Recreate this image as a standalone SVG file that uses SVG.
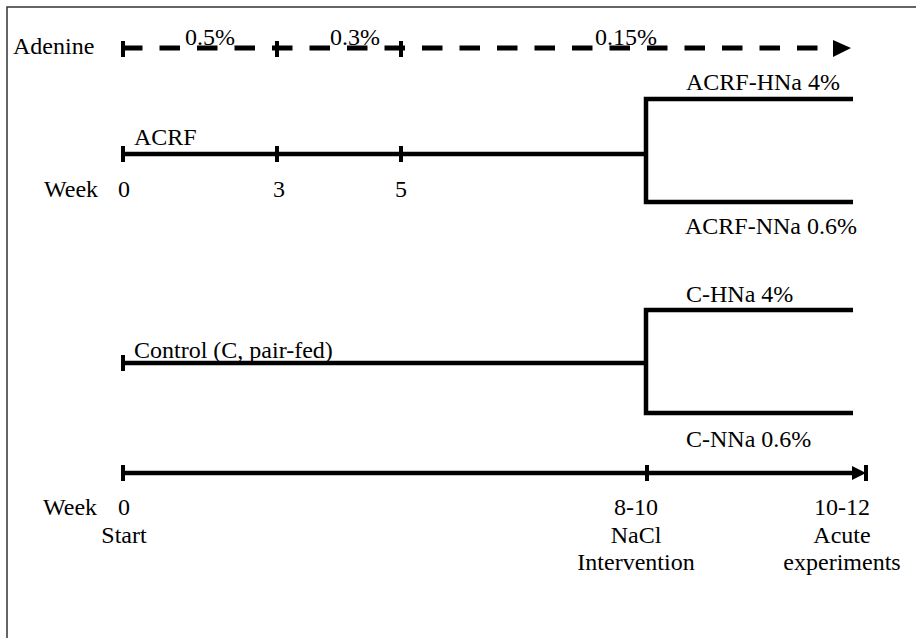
<svg xmlns="http://www.w3.org/2000/svg" width="916" height="638" viewBox="0 0 916 638">
<style>
.mid{text-anchor:middle}
.ln{stroke:#000;stroke-width:4.5;fill:none;stroke-linecap:butt}
.tk{stroke:#000;stroke-width:4;fill:none}
.dash{stroke:#000;stroke-width:5;fill:none;stroke-dasharray:20.5 17}
.frame{stroke:#333;stroke-width:1.5;fill:none}
</style>
<rect width="916" height="638" fill="#fff"/>
<path class="frame" d="M7,638 V7 H916"/>
<g id="connectors">
  <line class="dash" x1="122" y1="48" x2="836" y2="48"/>
  <polygon points="833,40 851,48 833,57" fill="#000"/>
  <line class="tk" x1="123" y1="41" x2="123" y2="57"/>
  <line class="tk" x1="277" y1="41" x2="277" y2="57"/>
  <line class="tk" x1="401" y1="41" x2="401" y2="57"/>

  <line class="ln" x1="122" y1="154" x2="646" y2="154"/>
  <line class="tk" x1="123" y1="146" x2="123" y2="162"/>
  <line class="tk" x1="277" y1="146" x2="277" y2="162"/>
  <line class="tk" x1="401" y1="146" x2="401" y2="162"/>
  <path class="ln" d="M853,99 H646 V202 H853"/>

  <line class="ln" x1="122" y1="363" x2="646" y2="363"/>
  <line class="tk" x1="123" y1="355" x2="123" y2="371"/>
  <path class="ln" d="M853,310 H646 V413 H853"/>

  <line class="ln" x1="122" y1="473" x2="856" y2="473"/>
  <line class="tk" x1="123" y1="465" x2="123" y2="481"/>
  <line class="tk" x1="647" y1="465" x2="647" y2="481"/>
  <polygon points="852,466 866,473 852,480" fill="#000"/>
  <line class="tk" x1="866" y1="465" x2="866" y2="481"/>
</g>
<g font-family="Liberation Serif, DejaVu Serif, serif" font-size="24" fill="#000">
<g id="adenine">
  <text x="13" y="54">Adenine</text>
  <text x="185" y="45">0.5%</text>
  <text x="330" y="45">0.3%</text>
  <text x="595" y="45">0.15%</text>
</g>
<g id="acrf">
  <text x="134" y="145">ACRF</text>
  <text x="44" y="197">Week</text>
  <text x="124" y="197" class="mid">0</text>
  <text x="279" y="197" class="mid">3</text>
  <text x="401" y="197" class="mid">5</text>
</g>
<g id="acrf-hna"><text x="686" y="90">ACRF-HNa 4%</text></g>
<g id="acrf-nna"><text x="685" y="234">ACRF-NNa 0.6%</text></g>
<g id="control"><text x="134" y="358">Control (C, pair-fed)</text></g>
<g id="c-hna"><text x="686" y="302">C-HNa 4%</text></g>
<g id="c-nna"><text x="686" y="447">C-NNa 0.6%</text></g>
<g id="timeline">
  <text x="43" y="515">Week</text>
  <text x="124" y="515" class="mid">0</text>
  <text x="124" y="543" class="mid">Start</text>
  <text x="636" y="515" class="mid">8-10</text>
  <text x="636" y="543" class="mid">NaCl</text>
  <text x="636" y="570" class="mid">Intervention</text>
  <text x="842" y="515" class="mid">10-12</text>
  <text x="842" y="543" class="mid">Acute</text>
  <text x="842" y="570" class="mid">experiments</text>
</g>
</g>
</svg>
